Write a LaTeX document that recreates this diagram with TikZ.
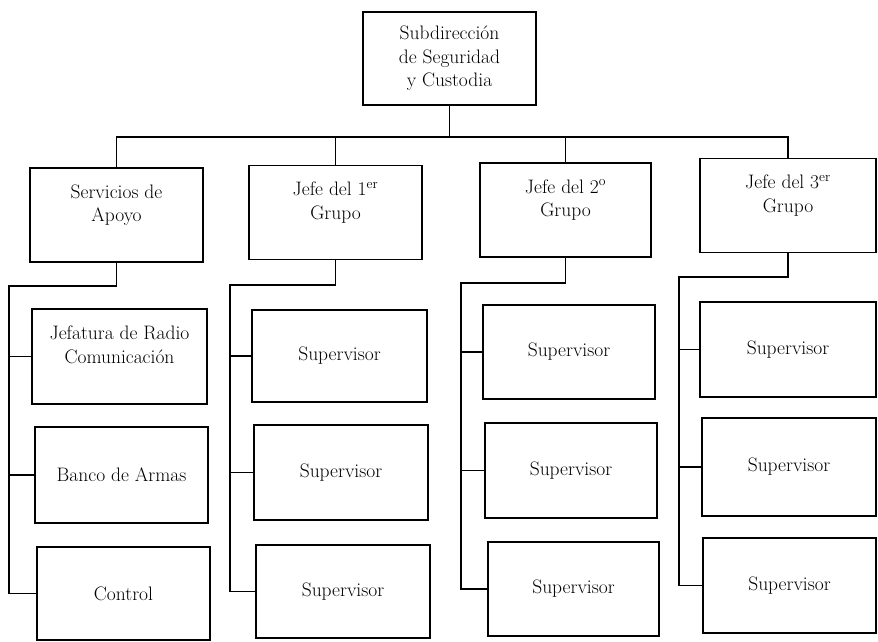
\documentclass[tikz,border=0pt]{standalone}
\usepackage{fontspec}
\setmainfont{Latin Modern Roman}
\begin{document}
\begin{tikzpicture}[x=1pt,y=1pt,
  box/.style={draw=black,line width=1.1pt,inner sep=0pt,align=center,
    font=\fontsize{19.5}{23.5}\selectfont,minimum width=173pt,minimum height=94pt},
  conn/.style={draw=black,line width=1.1pt}]
\useasboundingbox (0,0) rectangle (878,641);
\fill[white] (0,0) rectangle (878,641);
% top
\node[box,minimum height=93pt] (top) at (449.5,582.5) {Subdirección\\de Seguridad\\y Custodia};
% row 2
\node[box] (sa) at (116.5,426) {Servicios de\\Apoyo\\ };
\node[box] (ja) at (335.5,428.5) {Jefe del 1\textsuperscript{er}\\Grupo\\ };
\node[box,minimum width=171pt] (jb) at (565.5,431) {Jefe del 2\textsuperscript{o}\\Grupo\\ };
\node[box,minimum width=176pt] (jc) at (788,435.5) {Jefe del 3\textsuperscript{er}\\Grupo\\ };
% column 1
\node[box,minimum width=175pt,minimum height=95pt] (ca) at (119.5,284.5) {Jefatura de Radio\\Comunicación\\ };
\node[box,minimum height=96pt] (cb) at (121.5,166) {Banco de Armas};
\node[box,minimum height=93pt] (cc) at (123.5,47.5) {Control};
% column 2
\node[box,minimum width=175pt,minimum height=92pt] (da) at (339.5,285) {Supervisor};
\node[box,minimum width=174pt,minimum height=95pt] (db) at (341,168.5) {Supervisor};
\node[box,minimum width=174pt,minimum height=93pt] (dc) at (343,49.5) {Supervisor};
% column 3
\node[box,minimum width=172pt,minimum height=94pt] (ea) at (569,289) {Supervisor};
\node[box,minimum width=172pt,minimum height=95pt] (eb) at (571,170.5) {Supervisor};
\node[box,minimum width=171pt,minimum height=94pt] (ec) at (573.5,52) {Supervisor};
% column 4
\node[box,minimum width=176pt,minimum height=95pt] (fa) at (788,291.5) {Supervisor};
\node[box,minimum width=174pt,minimum height=98pt] (fb) at (789,174) {Supervisor};
\node[box,minimum width=173pt,minimum height=95pt] (fc) at (789.5,55.5) {Supervisor};
% bus
\coordinate (bus) at (0,504);
\draw[conn] (top.south) -- (top.south |- bus);
\draw[conn] (sa.north) -- (sa.north |- bus) -- (jc.north |- bus) -- (jc.north);
\draw[conn] (ja.north) -- (ja.north |- bus);
\draw[conn] (jb.north) -- (jb.north |- bus);
% column spines
\coordinate (s1) at (9,355);
\coordinate (s2) at (230,356);
\coordinate (s3) at (461,358);
\coordinate (s4) at (679,364);
\draw[conn] (sa.south) -- (sa.south |- s1) -- (s1) -- (s1 |- cc.west) -- (cc.west);
\draw[conn] (s1 |- ca.west) -- (ca.west);
\draw[conn] (s1 |- cb.west) -- (cb.west);
\draw[conn] (ja.south) -- (ja.south |- s2) -- (s2) -- (s2 |- dc.west) -- (dc.west);
\draw[conn] (s2 |- da.west) -- (da.west);
\draw[conn] (s2 |- db.west) -- (db.west);
\draw[conn] (jb.south) -- (jb.south |- s3) -- (s3) -- (s3 |- ec.west) -- (ec.west);
\draw[conn] (s3 |- ea.west) -- (ea.west);
\draw[conn] (s3 |- eb.west) -- (eb.west);
\draw[conn] (jc.south) -- (jc.south |- s4) -- (s4) -- (s4 |- fc.west) -- (fc.west);
\draw[conn] (s4 |- fa.west) -- (fa.west);
\draw[conn] (s4 |- fb.west) -- (fb.west);
\end{tikzpicture}
\end{document}
